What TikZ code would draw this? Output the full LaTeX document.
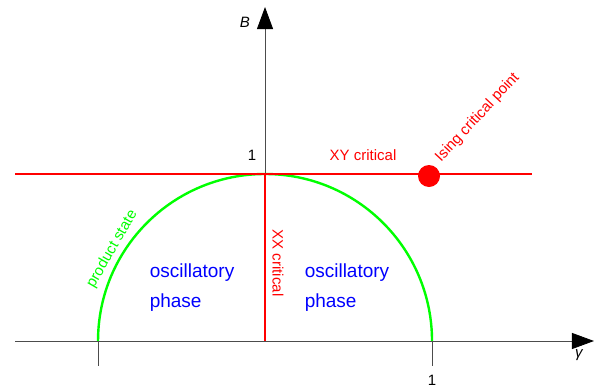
\documentclass[tikz,border=0pt]{standalone}
\usepackage{fontspec}
\setmainfont{Liberation Sans}
\usetikzlibrary{arrows.meta}

\begin{document}
\begin{tikzpicture}[
  x=167pt, y=167pt,
  font=\fontsize{15}{18}\selectfont,
  axis/.style={draw=black!70, line width=0.8pt, -{Triangle[length=22pt,width=16pt,color=black]}},
  tick/.style={draw=black!70, line width=0.8pt},
  crit/.style={draw=red, line width=2.4pt},
  lbl/.style={inner sep=1pt},
  phase/.style={text=blue, align=left, font=\fontsize{19}{30}\selectfont}]
\useasboundingbox (-1.587,-0.287) rectangle (1.982,2.042);
% axes
\coordinate (o) at (0,0);
\coordinate (xl) at (-1.497,0);
\coordinate (xr) at (1.97,0);
\coordinate (yt) at (0,2.0);
\coordinate (m1) at (-1,0);
\coordinate (p1) at (1,0);
\draw[axis] (xl) -- (xr);
\draw[axis] (o) -- (yt);
\draw[tick] (m1) -- ++(0,-0.15);
\draw[tick] (p1) -- ++(0,-0.15);
\node[lbl] (xone) at (1,-0.234) {1};
\node[lbl] (gam) at (1.88,-0.084) {\itshape γ};
\node[lbl] (bee) at (-0.12,1.91) {\itshape B};
% product state arc
\draw[draw=green, line width=2.4pt] (p1) arc[start angle=0, end angle=180, radius=1];
\node[lbl, text=green, rotate=60] (prod) at (-0.915,0.55) {product state};
% critical lines
\coordinate (hl) at (-1.497,1);
\coordinate (hr) at (1.599,1);
\coordinate (top) at (0,1);
\draw[crit] (hl) -- (hr);
\draw[crit] (top) -- (o);
\node[lbl] (yone) at (-0.078,1.114) {1};
\node[lbl, text=red] (xy) at (0.587,1.114) {XY critical};
\node[lbl, text=red, rotate=-90] (xx) at (0.078,0.467) {XX critical};
\node[circle, fill=red, minimum size=22pt, inner sep=0pt] (ising) at (0.982,0.988) {};
\node[lbl, text=red, rotate=47, anchor=base west] (isingl) at (1.05,1.065) {Ising critical point};
% phases
\node[phase] (lph) at (-0.437,0.317) {oscillatory\\phase};
\node[phase] (rph) at (0.491,0.317) {oscillatory\\phase};
\end{tikzpicture}
\end{document}
